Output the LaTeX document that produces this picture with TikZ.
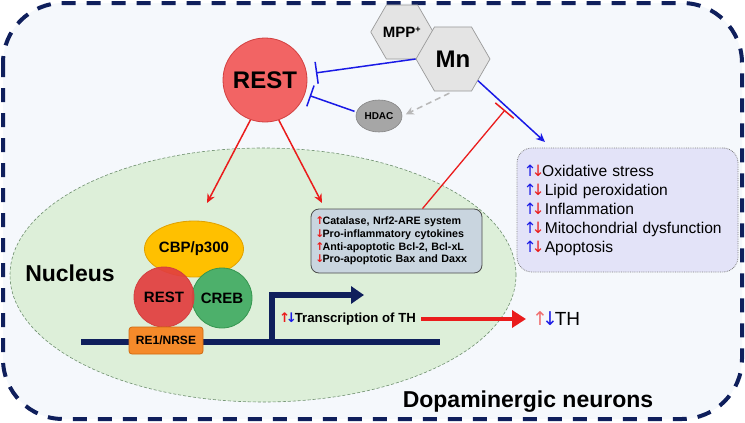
\documentclass[tikz,border=0pt]{standalone}
\usepackage{fontspec}
\setmainfont{Liberation Sans}
\newfontfamily\arrfont{DejaVu Sans}
\usetikzlibrary{arrows.meta,shapes.geometric}
\definecolor{navy}{HTML}{0F1F5C}
\definecolor{bgc}{HTML}{F5F8FC}
\definecolor{nucfill}{HTML}{DDEFD9}
\definecolor{nucdraw}{HTML}{6E8F6E}
\definecolor{restfill}{HTML}{F26464}
\definecolor{restdraw}{HTML}{D24040}
\definecolor{hexfill}{HTML}{E4E4E4}
\definecolor{hexdraw}{HTML}{9A9A9A}
\definecolor{hdacfill}{HTML}{A6A6A6}
\definecolor{cbpfill}{HTML}{FFC000}
\definecolor{cbpdraw}{HTML}{E0A000}
\definecolor{restsfill}{HTML}{E23E3E}
\definecolor{crebfill}{HTML}{4DB06B}
\definecolor{crebdraw}{HTML}{35964F}
\definecolor{refill}{HTML}{F58A2A}
\definecolor{redraw}{HTML}{D0690F}
\definecolor{catfill}{HTML}{C9D5DF}
\definecolor{rbfill}{HTML}{E3E3F8}
\definecolor{myred}{HTML}{EA1C1C}
\definecolor{myblue}{HTML}{1A1AE6}
\definecolor{mygray}{HTML}{B8B8B8}
\definecolor{lightred}{HTML}{F07070}
\tikzset{
  outerbox/.style={draw=navy, line width=4pt, dash pattern=on 14pt off 11pt, rounded corners=60pt, fill=bgc},
  nucleus/.style={draw=nucdraw, densely dashed, line width=0.6pt, fill=nucfill},
  bigrest/.style={circle, minimum size=84pt, inner sep=0pt, fill=restfill, draw=restdraw, line width=0.8pt, font=\fontsize{24}{24}\selectfont\bfseries},
  hexa/.style={regular polygon, regular polygon sides=6, inner sep=0pt, fill=hexfill, draw=hexdraw, line width=0.7pt},
  hdacnode/.style={ellipse, minimum width=46pt, minimum height=32pt, inner sep=0pt, fill=hdacfill, draw=hdacfill!80!black, line width=0.6pt, font=\fontsize{10}{10}\selectfont\bfseries},
  blueinh/.style={draw=myblue, line width=1.5pt, -{Bar[width=22pt,line width=1.5pt]}},
  redinh/.style={draw=myred, line width=1.3pt, -{Bar[width=24pt,line width=1.5pt]}},
  redarr/.style={draw=myred, line width=1.5pt, -{Stealth[length=9pt,width=8pt]}},
  bluearr/.style={draw=myblue, line width=1.5pt, -{Stealth[length=9pt,width=8pt]}},
  grayarr/.style={draw=mygray, line width=1.5pt, dash pattern=on 6pt off 4pt, -{Stealth[length=8pt,width=8pt]}},
  protein/.style={inner sep=0pt, line width=0.8pt, font=\fontsize{15}{15}\selectfont\bfseries},
  dnaline/.style={draw=navy, line width=6pt},
  catbox/.style={draw=black!70, fill=catfill, rounded corners=8pt, line width=0.8pt, text width=159pt, inner xsep=6pt, minimum height=64pt, align=left, font=\fontsize{10.7}{12.7}\selectfont\bfseries},
  rbox/.style={draw=black!50, densely dotted, fill=rbfill, rounded corners=15pt, line width=0.8pt, text width=203pt, inner xsep=9pt, minimum height=124pt, align=left, font=\fontsize{15.6}{19}\selectfont},
  bigarr/.style={draw=myred, line width=4pt, -{Triangle[length=14pt,width=17pt]}},
  biglabel/.style={font=\fontsize{23}{23}\selectfont\bfseries}
}
\newcommand{\arw}[2]{\textcolor{#1}{\arrfont\kern-0.16em#2\kern-0.16em}}
\newcommand{\ua}{\arw{myred}{↑}}
\newcommand{\da}{\arw{myred}{↓}}
\newcommand{\bua}{\arw{myblue}{↑}}
\newcommand{\bda}{\arw{myblue}{↓}}
\begin{document}
\begin{tikzpicture}[x=1pt,y=-1pt]
\useasboundingbox (0,0) rectangle (745,423);
\path[outerbox] (3,3) rectangle (742,419);
\path[nucleus] (263,275) ellipse [x radius=253pt, y radius=127pt];

\node[biglabel] (nuc) at (70,273) {Nucleus};
\node[biglabel] (dopa) at (528,402) {Dopaminergic neurons};

% top signalling
\node[bigrest] (rest) at (265,80) {REST};
\node[hexa, minimum size=54pt, font=\fontsize{15}{15}\selectfont\bfseries] (mpp) at (402,32) {MPP\textsuperscript{\fontsize{9}{9}\selectfont +}};
\node[hexa, minimum size=74pt, font=\fontsize{24}{24}\selectfont\bfseries] (mn) at (453,59) {Mn};
\node[hdacnode] (hdac) at (379,116) {HDAC};

\draw[blueinh, shorten >=9pt] (mn.west) -- (rest);
\draw[blueinh, shorten >=5pt, shorten <=2pt] (hdac.170) -- (rest);
\draw[grayarr, shorten <=4pt, shorten >=4pt] (mn.south) -- (hdac.east);

% boxes
\node[catbox] (cat) at (396.5,241) {\ua Catalase, Nrf2-ARE system\\\da Pro-inflammatory cytokines\\\ua Anti-apoptotic Bcl-2, Bcl-xL\\\da Pro-apoptotic Bax and Daxx};
\node[rbox] (rb) at (627.5,210) {\bua\da Oxidative stress\\\bua\da\,Lipid peroxidation\\\bua\da\,Inflammation\\\bua\da\,Mitochondrial dysfunction\\\bua\da\,Apoptosis};

\coordinate (rbtip) at (545,142);
\draw[bluearr] (mn.-41) -- (rbtip);
\coordinate (redbar) at (505,110);
\draw[redinh] ([xshift=26pt]cat.north) -- (redbar);

\coordinate (restL) at (207,203);
\coordinate (restR) at (322,203);
\draw[redarr] (rest.-110) -- (restL);
\draw[redarr] (rest.-71) -- (restR);

% DNA and complex
\coordinate (dnaL) at (81,342);
\coordinate (dnaR) at (440,342);
\coordinate (prom) at (272,342);
\coordinate (promtop) at (272,295);
\coordinate (promend) at (364,295);
\draw[dnaline] (dnaL) -- (dnaR);
\draw[dnaline, -{Triangle[length=13pt,width=17pt]}] (prom) -- (promtop) -- (promend);

\node[protein, ellipse, minimum width=76pt, minimum height=56pt, fill=cbpfill, draw=cbpdraw] (cbp) at (194,249) {CBP/p300};
\node[protein, circle, minimum size=60pt, fill=crebfill, draw=crebdraw] (creb) at (222,298) {CREB};
\node[protein, circle, minimum size=60pt, fill=restsfill, fill opacity=0.92, text opacity=1, draw=restdraw] (rests) at (164,297) {REST};
\node[protein, rectangle, rounded corners=3pt, minimum width=74pt, minimum height=27pt, fill=refill, draw=redraw, font=\fontsize{12}{12}\selectfont\bfseries] (re1) at (166,340.5) {RE1/NRSE};

\node[anchor=west, inner sep=0pt, font=\fontsize{13.2}{13.2}\selectfont\bfseries] (tx) at (281,319) {\ua\bda Transcription of TH};
\node[anchor=west, inner sep=0pt, font=\fontsize{19}{19}\selectfont] (th) at (535,319) {\arw{lightred}{↑}\bda TH};
\draw[bigarr, shorten <=5pt, shorten >=9pt] (tx.east) -- (th.west);
\end{tikzpicture}
\end{document}
